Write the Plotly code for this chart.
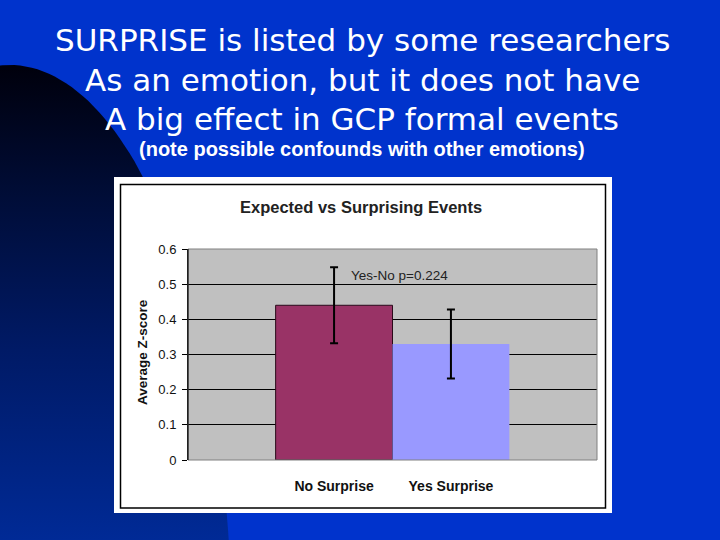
import numpy as np
import plotly.graph_objects as go

# ---------------- data ----------------
categories = ["No Surprise", "Yes Surprise"]
avg_z = [0.44, 0.33]
err_z = [0.108, 0.098]
bar_colors = ["#993366", "#9999FF"]
y_ticks = [0, 0.1, 0.2, 0.3, 0.4, 0.5, 0.6]
y_tick_labels = ["0", "0.1", "0.2", "0.3", "0.4", "0.5", "0.6"]

slide_lines = [
    "SURPRISE is listed by some researchers",
    "As an emotion, but it does not have",
    "A big effect in GCP formal events",
]
slide_note = "(note possible confounds with other emotions)"
chart_title = "Expected vs Surprising Events"
y_title = "Average Z-score"
stat_note = "Yes-No p=0.224"

# ---------------- layout helpers ----------------
W, H = 720, 540


def py(y):
    return H - y


def px(x):
    return x / W


def pyp(y):
    return 1 - y / H


def rect(x0, y0, x1, y1):
    return [x0, x1, x1, x0, x0], [py(y0), py(y0), py(y1), py(y1), py(y0)]


ARIAL = "Liberation Sans, Arial, sans-serif"
SLIDE_BLUE = "#0033CC"

fig = go.Figure()

# slide background (full page)
bx, by = rect(0, 0, W, H)
fig.add_trace(go.Scatter(x=bx, y=by, mode="lines", line=dict(width=0), fill="toself",
                         fillcolor=SLIDE_BLUE, hoverinfo="skip", showlegend=False,
                         xaxis="x", yaxis="y"))

# dark ellipse with vertical gradient
t = np.linspace(0, 2 * np.pi, 240)
ex = 10 + 221 * np.cos(t)
ey = 620 + 555 * np.sin(t)
fig.add_trace(go.Scatter(
    x=ex, y=[py(v) for v in ey], mode="lines", line=dict(width=0), fill="toself",
    fillgradient=dict(type="vertical",
                      colorscale=[[0, "#002a96"], [0.4, "#001a66"], [0.72, "#000d38"], [1, "#00000c"]],
                      start=0, stop=py(65)),
    hoverinfo="skip", showlegend=False, xaxis="x", yaxis="y"))

# white chart box
wx, wy = rect(114, 177, 612, 513)
fig.add_trace(go.Scatter(x=wx, y=wy, mode="lines", line=dict(width=0), fill="toself",
                         fillcolor="white", hoverinfo="skip", showlegend=False,
                         xaxis="x", yaxis="y"))

# gray plot area
PL, PR, PT, PB = 188, 597, 249, 460
gx, gy = rect(PL, PT, PR, PB)
fig.add_trace(go.Scatter(x=gx, y=gy, mode="lines", line=dict(width=0), fill="toself",
                         fillcolor="#C0C0C0", hoverinfo="skip", showlegend=False,
                         xaxis="x", yaxis="y"))

# bars
fig.add_trace(go.Bar(
    x=categories, y=avg_z, width=1,
    marker=dict(color=bar_colors,
                line=dict(color=["#2a0a1a", "rgba(0,0,0,0)"], width=[1, 0])),
    error_y=dict(type="data", array=err_z, color="black", thickness=2, width=4),
    hoverinfo="skip", showlegend=False, xaxis="x2", yaxis="y2"))

fig.update_layout(
    width=W, height=H, autosize=False,
    margin=dict(l=0, r=0, t=0, b=0, pad=0, autoexpand=False),
    paper_bgcolor=SLIDE_BLUE,
    plot_bgcolor="rgba(0,0,0,0)",
    showlegend=False,
    xaxis=dict(domain=[0, 1], range=[0, W], visible=False, fixedrange=True, automargin=False),
    yaxis=dict(domain=[0, 1], range=[0, H], visible=False, fixedrange=True, automargin=False),
    xaxis2=dict(domain=[px(PL), px(PR)], anchor="y2", type="category",
                categoryorder="array", categoryarray=categories, automargin=False,
                range=[-1.25, 2.25], showgrid=False, zeroline=False, showline=False,
                ticks="", tickfont=dict(family=ARIAL, size=14, color="#111111", weight="bold"),
                ticklabelstandoff=16),
    yaxis2=dict(domain=[pyp(PB), pyp(PT)], anchor="x2", range=[0, 0.6], automargin=False,
                tickvals=y_ticks, ticktext=y_tick_labels,
                ticks="outside", ticklen=5, tickwidth=1, tickcolor="black",
                showline=True, linecolor="black", linewidth=1,
                showgrid=True, gridcolor="black", gridwidth=1, zeroline=False,
                tickfont=dict(family=ARIAL, size=13, color="#111111"),
                ticklabelstandoff=3),
    shapes=[
        dict(type="rect", xref="paper", yref="paper", layer="above",
             x0=px(120.5), x1=px(605.5), y0=pyp(508), y1=pyp(184.5),
             line=dict(color="black", width=1.5), fillcolor="rgba(0,0,0,0)"),
        dict(type="rect", xref="paper", yref="paper", layer="above",
             x0=px(PL), x1=px(PR), y0=pyp(PB), y1=pyp(PT),
             line=dict(color="#808080", width=1), fillcolor="rgba(0,0,0,0)"),
        dict(type="line", xref="paper", yref="paper", layer="above",
             x0=px(PL), x1=px(PL), y0=pyp(PB), y1=pyp(PT),
             line=dict(color="black", width=1)),
    ],
)

annotations = []
line_y = [40.5, 79.5, 118.5]
for txt, yc in zip(slide_lines, line_y):
    annotations.append(dict(text=txt, xref="paper", yref="paper", x=px(362), y=pyp(yc),
                            xanchor="center", yanchor="middle", showarrow=False,
                            font=dict(family="DejaVu Sans, sans-serif", size=31, color="white")))
annotations.append(dict(text=slide_note, xref="paper", yref="paper", x=px(362), y=pyp(149),
                        xanchor="center", yanchor="middle", showarrow=False,
                        font=dict(family=ARIAL, size=20, color="white", weight="bold")))
annotations.append(dict(text=chart_title, xref="paper", yref="paper", x=px(361), y=pyp(207),
                        xanchor="center", yanchor="middle", showarrow=False,
                        font=dict(family=ARIAL, size=16.5, color="#222222", weight="bold")))
annotations.append(dict(text=y_title, xref="paper", yref="paper", x=px(142), y=pyp(352),
                        xanchor="center", yanchor="middle", showarrow=False, textangle=-90,
                        font=dict(family=ARIAL, size=13.5, color="#111111", weight="bold")))
annotations.append(dict(text=stat_note, xref="x2", yref="y2", x=0.128, y=0.526,
                        xanchor="left", yanchor="middle", showarrow=False,
                        font=dict(family=ARIAL, size=13.5, color="#222222")))
fig.update_layout(annotations=annotations)

fig.write_html(
    "out.html",
    config={"displayModeBar": False, "responsive": False},
    post_script="document.body.style.margin='0px';document.body.style.padding='0px';"
                "document.body.style.overflow='hidden';",
)
